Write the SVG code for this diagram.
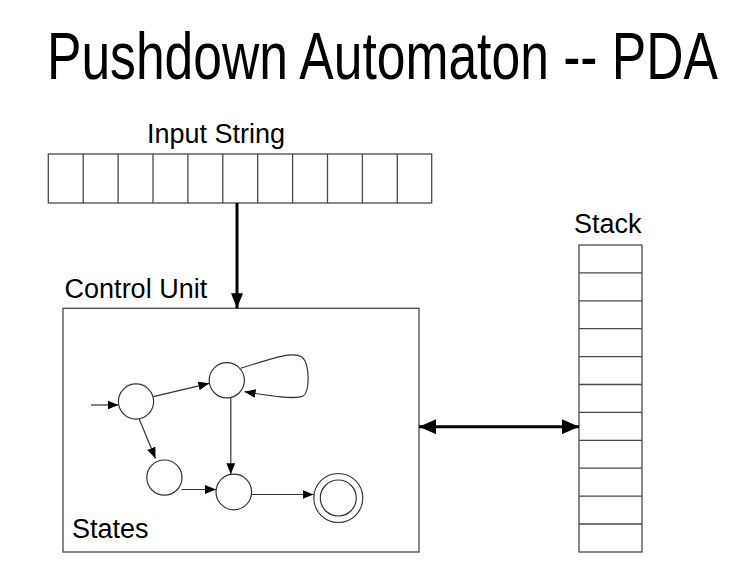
<svg xmlns="http://www.w3.org/2000/svg" width="756" height="576" viewBox="0 0 756 576">
<style>
text{font-family:"Liberation Sans",Arial,sans-serif;fill:#000}
.lbl{font-size:27px}
.box{fill:#fff;stroke:#4a4a4a;stroke-width:1.3}
.cell{stroke:#4a4a4a;stroke-width:1.3}
.st{fill:#fff;stroke:#333;stroke-width:1.2}
.thin{fill:none;stroke:#333;stroke-width:1.2}
.thick{fill:none;stroke:#000;stroke-width:3}
</style>
<defs>
<marker id="ah" markerUnits="userSpaceOnUse" viewBox="0 0 10 8" refX="10" refY="4" markerWidth="11" markerHeight="9" orient="auto"><path d="M0,0L10,4L0,8z" fill="#000"/></marker>
<marker id="big" markerUnits="userSpaceOnUse" viewBox="0 0 16 14" refX="16" refY="7" markerWidth="17" markerHeight="15" orient="auto-start-reverse"><path d="M0,0L16,7L0,14z" fill="#000"/></marker>
<marker id="big2" markerUnits="userSpaceOnUse" viewBox="0 0 15 12" refX="15" refY="6" markerWidth="15" markerHeight="12" orient="auto"><path d="M0,0L15,6L0,12z" fill="#000"/></marker>
</defs>
<rect width="756" height="576" fill="#fff"/>
<text transform="translate(47,78.5) scale(0.77,1)" font-size="67">Pushdown Automaton -- PDA</text>

<g id="input-string">
<text class="lbl" x="147" y="143.3">Input String</text>
<rect class="box" x="48.3" y="154" width="383.4" height="49"/>
<path class="cell" d="M83.2,154V203M118.1,154V203M153,154V203M187.9,154V203M222.8,154V203M257.7,154V203M292.6,154V203M327.5,154V203M362.4,154V203M397.3,154V203"/>
</g>

<g id="control-unit">
<text class="lbl" x="64.6" y="298.3" font-size="27.5">Control Unit</text>
<rect class="box" x="63" y="308.3" width="356" height="243.7"/>
<text class="lbl" x="72" y="538.3">States</text>
</g>

<g id="stack">
<text class="lbl" x="574" y="233.3">Stack</text>
<rect class="box" x="579" y="245" width="63" height="307"/>
<path class="cell" d="M579,272.9H642M579,300.8H642M579,328.7H642M579,356.6H642M579,384.5H642M579,412.4H642M579,440.3H642M579,468.2H642M579,496.1H642M579,524H642"/>
</g>

<g id="states">
<circle id="s0" class="st" cx="136" cy="401.5" r="17.6"/>
<circle id="s1" class="st" cx="226.8" cy="380.3" r="17.6"/>
<circle id="s2" class="st" cx="164.4" cy="477.6" r="17.6"/>
<circle id="s3" class="st" cx="233.8" cy="492" r="17.8"/>
<g id="s4"><circle class="st" cx="338.3" cy="498" r="24.5"/><circle class="st" cx="338.3" cy="498" r="18"/></g>
</g>

<g id="connectors">
<line class="thick" x1="237" y1="203" x2="237" y2="308.3" marker-end="url(#big2)"/>
<line class="thick" x1="419" y1="426.7" x2="579" y2="426.7" marker-start="url(#big)" marker-end="url(#big)"/>
<line class="thin" x1="91" y1="405" x2="118.5" y2="405" marker-end="url(#ah)"/>
<line class="thin" x1="153.3" y1="396.7" x2="209.3" y2="383.3" marker-end="url(#ah)"/>
<path class="thin" d="M240.7,368.3C270,359 292,351 302,357C310,364 310,392 303,396C296,400 270,396 244.5,391.7" marker-end="url(#ah)"/>
<line class="thin" x1="139" y1="418.5" x2="155.5" y2="458.5" marker-end="url(#ah)"/>
<line class="thin" x1="230.8" y1="397.8" x2="230.8" y2="474.2" marker-end="url(#ah)"/>
<line class="thin" x1="181.7" y1="489.5" x2="216" y2="489.5" marker-end="url(#ah)"/>
<line class="thin" x1="251.7" y1="494.5" x2="313.5" y2="494.5" marker-end="url(#ah)"/>
</g>
</svg>
